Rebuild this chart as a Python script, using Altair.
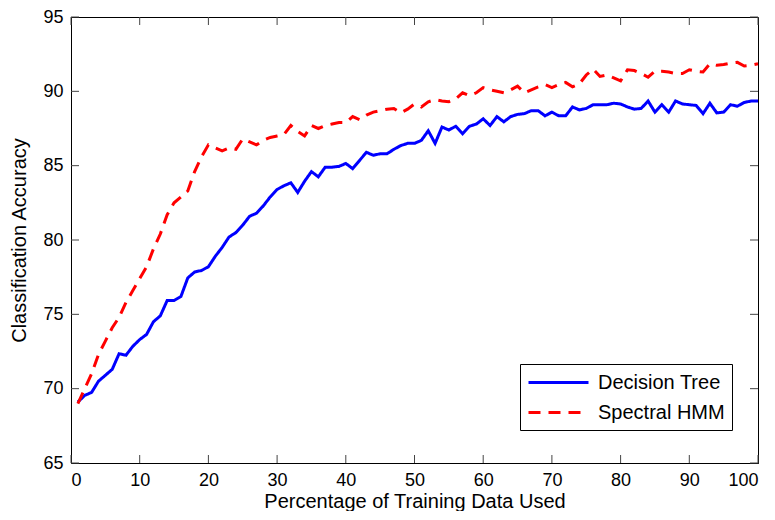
import altair as alt
import pandas as pd

pct = list(range(1, 101))

decision_tree = [
    69.1, 69.55, 69.75, 70.5, 70.9, 71.3, 72.35, 72.25, 72.85, 73.3,
    73.65, 74.5, 74.9, 75.93, 75.93, 76.2, 77.45, 77.85, 77.95, 78.2,
    78.9, 79.5, 80.2, 80.5, 81.0, 81.6, 81.8, 82.3, 82.9, 83.4,
    83.65, 83.85, 83.2, 83.95, 84.6, 84.25, 84.9, 84.9, 84.95, 85.15,
    84.8, 85.35, 85.9, 85.7, 85.8, 85.8, 86.1, 86.35, 86.5, 86.5,
    86.7, 87.35, 86.5, 87.6, 87.4, 87.65, 87.15, 87.65, 87.8, 88.15,
    87.7, 88.3, 87.95, 88.3, 88.45, 88.5, 88.7, 88.7, 88.35, 88.6,
    88.35, 88.35, 88.95, 88.75, 88.85, 89.1, 89.1, 89.1, 89.2, 89.15,
    88.95, 88.8, 88.85, 89.35, 88.6, 89.1, 88.6, 89.35, 89.15, 89.1,
    89.05, 88.5, 89.2, 88.55, 88.6, 89.1, 89.0, 89.25, 89.35, 89.35,
]

spectral_hmm = [
    69.0, 70.0, 71.0, 72.3, 73.2, 74.1, 74.8, 75.8, 76.6, 77.4,
    78.2, 79.4, 80.4, 81.7, 82.5, 82.9, 83.3, 84.6, 85.6, 86.4,
    86.2, 86.0, 86.2, 86.1, 86.8, 86.6, 86.4, 86.7, 86.9, 87.0,
    87.1, 87.7, 87.3, 87.0, 87.7, 87.5, 87.7, 87.8, 87.9, 87.9,
    88.3, 88.1, 88.4, 88.6, 88.7, 88.8, 88.85, 88.55, 88.8, 89.15,
    88.95, 89.3, 89.45, 89.35, 89.3, 89.5, 89.9, 89.7, 89.9, 90.25,
    90.1, 90.0, 89.9, 90.1, 90.35, 89.9, 90.1, 90.3, 90.45, 90.25,
    90.45, 90.6, 90.3, 90.5, 91.1, 91.5, 91.0, 91.1, 90.9, 90.7,
    91.45, 91.4, 91.2, 90.95, 91.35, 91.35, 91.3, 91.2, 91.2, 91.45,
    91.35, 91.3, 91.85, 91.75, 91.8, 91.9, 91.95, 91.7, 91.75, 91.85,
]

series_names = ["Decision Tree", "Spectral HMM"]
series_colors = ["#0000ff", "#ff0000"]
x_ticks = list(range(0, 101, 10))
y_ticks = list(range(65, 96, 5))

FONT = "Liberation Sans"
W, H = 687, 446
TICK = 8

df = pd.DataFrame({
    "pct": pct * 2,
    "acc": decision_tree + spectral_hmm,
    "method": [series_names[0]] * len(pct) + [series_names[1]] * len(pct),
})

xscale = alt.Scale(domain=[0, 100], nice=False, zero=False)
yscale = alt.Scale(domain=[65, 95], nice=False, zero=False)

legend = alt.Legend(
    title=None, orient="none", legendX=449, legendY=347,
    fillColor="white", strokeColor="black", padding=7,
    symbolType="M-1,0H5", symbolSize=400, symbolStrokeWidth=3,
    symbolFillColor="transparent",
    labelFont=FONT, labelFontSize=20, labelColor="black",
    labelOffset=48, rowPadding=8, labelLimit=300,
)

lines = alt.Chart(df).mark_line(strokeWidth=3).encode(
    x=alt.X("pct:Q", scale=xscale, axis=alt.Axis(
        values=x_ticks, title="Percentage of Training Data Used", ticks=False,
        grid=False, labelPadding=8, titlePadding=2, domainColor="black")),
    y=alt.Y("acc:Q", scale=yscale, axis=alt.Axis(
        values=y_ticks, title="Classification Accuracy", ticks=False,
        grid=False, labelPadding=8, titlePadding=13, domainColor="black")),
    color=alt.Color("method:N", scale=alt.Scale(domain=series_names, range=series_colors), legend=legend),
    strokeDash=alt.StrokeDash("method:N", scale=alt.Scale(domain=series_names, range=[[1, 0], [12, 8]]), legend=legend),
)

xt = pd.DataFrame({"v": x_ticks})
yt = pd.DataFrame({"v": y_ticks})
tick_style = dict(color="#444444", strokeWidth=1)

bottom_ticks = alt.Chart(xt).mark_rule(**tick_style).encode(
    x=alt.X("v:Q", scale=xscale), y=alt.value(H), y2=alt.value(H - TICK))
top_ticks = alt.Chart(xt).mark_rule(**tick_style).encode(
    x=alt.X("v:Q", scale=xscale), y=alt.value(0), y2=alt.value(TICK))
left_ticks = alt.Chart(yt).mark_rule(**tick_style).encode(
    y=alt.Y("v:Q", scale=yscale), x=alt.value(0), x2=alt.value(TICK))
right_ticks = alt.Chart(yt).mark_rule(**tick_style).encode(
    y=alt.Y("v:Q", scale=yscale), x=alt.value(W), x2=alt.value(W - TICK))

chart = alt.layer(bottom_ticks, top_ticks, left_ticks, right_ticks, lines).properties(
    width=W, height=H,
    autosize=alt.AutoSizeParams(type="none"),
    padding={"left": 63, "top": 9, "right": 8, "bottom": 48},
    background="white",
).configure_view(
    stroke="black", strokeWidth=1,
).configure_axis(
    labelFont=FONT, labelFontSize=18, labelColor="black",
    titleFont=FONT, titleFontSize=20, titleFontWeight="normal", titleColor="black",
    domainWidth=1,
)

chart.save("out.html", embed_options={"renderer": "svg", "actions": False})
